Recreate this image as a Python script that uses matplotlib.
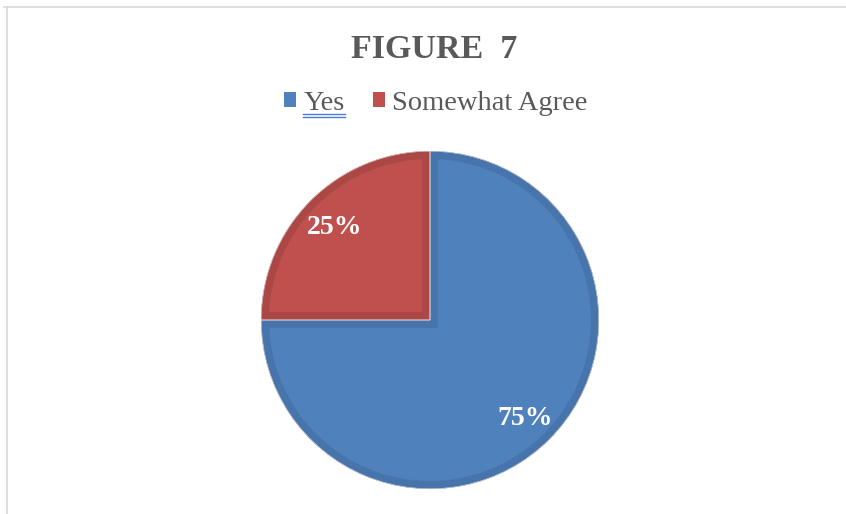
import matplotlib
matplotlib.use("Agg")
import matplotlib.pyplot as plt
from matplotlib.lines import Line2D

title = "FIGURE  7"
categories = ["Yes", "Somewhat Agree"]
values = [75, 25]
colors = ["#4F81BD", "#C0504D"]
edge_colors = ["#4674AB", "#AB4845"]

W, H = 846, 514
fig = plt.figure(figsize=(W / 100, H / 100), dpi=100)
fig.patch.set_facecolor("white")

# thin frame along top and left edges
fig.add_artist(Line2D([4 / W, 1.0], [1 - 6.5 / H, 1 - 6.5 / H], color="#D9D9D9", lw=1.2))
fig.add_artist(Line2D([6.5 / W, 6.5 / W], [0, 1 - 6.5 / H], color="#D9D9D9", lw=1.2))

cx, cy, r = 430, 320, 169
ax = fig.add_axes([(cx - r) / W, (H - cy - r) / H, 2 * r / W, 2 * r / H])

wedges, texts, autotexts = ax.pie(
    values, colors=colors, startangle=90, counterclock=False,
    autopct="%.0f%%", pctdistance=0.8,
    wedgeprops=dict(linewidth=0),
    textprops=dict(color="white", fontsize=20, fontweight="bold",
                   family="Liberation Serif"))
for t in autotexts:
    t.set_va("center_baseline")
ax.set_xlim(-1, 1)
ax.set_ylim(-1, 1)
ax.set_aspect("equal")

# darker inner band along each slice outline (stroke clipped to the slice)
for w, ec in zip(wedges, edge_colors):
    w.set_edgecolor(ec)
    w.set_linewidth(11.5)
    w.set_joinstyle("miter")
    w.set_clip_on(True)
    w.set_clip_path(w)

# light seam between the two slices
ax.pie(values, colors=["none", "none"], startangle=90, counterclock=False,
       wedgeprops=dict(linewidth=0.8, edgecolor="#E8D8D8"))
ax.set_xlim(-1, 1)
ax.set_ylim(-1, 1)
for p in ax.patches[2:]:
    p.set_clip_on(True)
    p.set_clip_path(p)

leg = fig.legend(
    wedges, categories, loc="center", bbox_to_anchor=(436 / W, 1 - 103 / H),
    ncol=2, frameon=False, handlelength=0.42, handleheight=0.42,
    handletextpad=0.25, columnspacing=1.0,
    prop=dict(family="Liberation Serif", size=20.5))
for h, c in zip(leg.legend_handles, colors):
    h.set_edgecolor(c)
    h.set_linewidth(0)
    h.set_clip_on(False)
    h.set_clip_path(None)
for t in leg.get_texts():
    t.set_color("#595959")

fig.text(434 / W, 1 - 50 / H, title, ha="center", va="center",
         fontsize=24.5, fontweight="bold", color="#595959",
         family="Liberation Serif")

# double underline under the first legend entry
fig.canvas.draw()
bb = leg.get_texts()[0].get_window_extent()
x0, x1 = bb.x0 / W, bb.x1 / W
for yy in (114, 117):
    fig.add_artist(Line2D([x0, x1], [1 - yy / H, 1 - yy / H], color="#4A7CD0", lw=1.0))

fig.savefig("out.png", dpi=100, facecolor="white")
